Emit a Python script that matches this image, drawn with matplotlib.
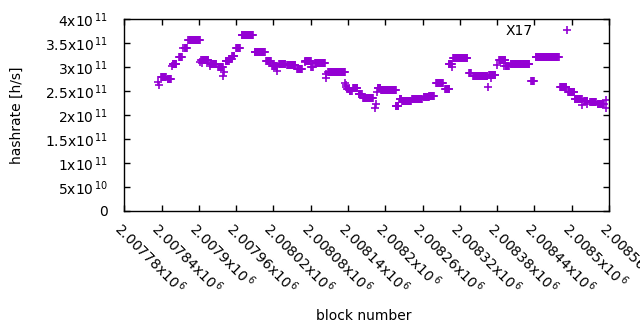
import numpy as np
import matplotlib
matplotlib.use("Agg")
import matplotlib.pyplot as plt

plt.rcParams['font.family'] = ['DejaVu Sans']
plt.rcParams['mathtext.fontset'] = 'dejavusans'

# block numbers are BASE + offset; hashrate stays flat over runs of blocks
BASE = 2007780
run_first = [54, 56, 59, 70, 76, 78, 88, 94, 97, 103, 122, 124, 125, 138, 138,
             151, 159, 160, 163, 169, 174, 180, 189, 210, 228, 238, 246, 249,
             262, 278, 290, 291, 301, 307, 324, 325, 328, 355, 356, 357, 359,
             363, 368, 377, 384, 403, 405, 407, 408, 413, 437, 443, 447, 463,
             482, 491, 502, 516, 522, 527, 529, 555, 561, 586, 587, 590, 600,
             603, 611, 614, 622, 655, 662, 701, 714, 725, 736, 740, 745, 750,
             762, 775, 775]
run_last = [54, 56, 67, 75, 76, 84, 93, 94, 101, 122, 122, 135, 125, 138, 148,
            159, 159, 160, 168, 173, 177, 186, 207, 226, 236, 245, 246, 259,
            275, 286, 290, 300, 303, 323, 324, 325, 355, 355, 356, 357, 362,
            366, 375, 382, 400, 403, 405, 407, 412, 437, 441, 446, 461, 479,
            490, 498, 513, 523, 527, 527, 552, 558, 584, 586, 597, 590, 600,
            613, 611, 619, 652, 659, 699, 711, 724, 736, 736, 745, 745, 759,
            772, 775, 775]
run_value = [2.69, 2.63, 2.80, 2.75, 3.02, 3.07, 3.21, 3.40, 3.40, 3.56, 3.10,
             3.16, 3.08, 3.02, 3.07, 3.01, 2.82, 2.91, 3.12, 3.18, 3.23, 3.40,
             3.67, 3.31, 3.14, 3.03, 2.92, 3.06, 3.04, 2.96, 3.10, 3.13, 3.00,
             3.08, 2.86, 2.77, 2.90, 2.66, 2.62, 2.59, 2.55, 2.50, 2.56, 2.44,
             2.36, 2.14, 2.22, 2.49, 2.57, 2.52, 2.19, 2.34, 2.29, 2.33, 2.37,
             2.40, 2.66, 2.54, 3.07, 3.01, 3.19, 2.88, 2.82, 2.58, 2.83, 2.78,
             3.04, 3.15, 3.02, 3.02, 3.07, 2.71, 3.21, 2.59, 2.49, 2.33, 2.21,
             2.29, 2.24, 2.28, 2.22, 2.31, 2.15]  # x 1e11 h/s

xtick_values = [BASE + 60 * k for k in range(14)]
xtick_labels = ['2.00778x10$^{\\,6}$', '2.00784x10$^{\\,6}$', '2.0079x10$^{\\,6}$',
                '2.00796x10$^{\\,6}$', '2.00802x10$^{\\,6}$', '2.00808x10$^{\\,6}$',
                '2.00814x10$^{\\,6}$', '2.0082x10$^{\\,6}$', '2.00826x10$^{\\,6}$',
                '2.00832x10$^{\\,6}$', '2.00838x10$^{\\,6}$', '2.00844x10$^{\\,6}$',
                '2.0085x10$^{\\,6}$', '2.00856x10$^{\\,6}$']
ytick_values = [0, 0.5e11, 1e11, 1.5e11, 2e11, 2.5e11, 3e11, 3.5e11, 4e11]
ytick_labels = ['0', '5x10$^{\\,10}$', '1x10$^{\\,11}$', '1.5x10$^{\\,11}$',
                '2x10$^{\\,11}$', '2.5x10$^{\\,11}$', '3x10$^{\\,11}$',
                '3.5x10$^{\\,11}$', '4x10$^{\\,11}$']

blocks, rates = [], []
for s, e, v in zip(run_first, run_last, run_value):
    for b in range(s, e + 1):
        blocks.append(BASE + b)
        rates.append(v * 1e11)

fig = plt.figure(figsize=(6.4, 3.3), dpi=100)
ax = fig.add_axes([124.3 / 640, 1 - 210.6 / 330, 484.7 / 640, 191.2 / 330])

ax.plot(blocks, rates, linestyle='none', marker='+', ms=6, mew=1.2,
        color='#9400d3', label='X17')

ax.set_xlim(BASE, BASE + 780)
ax.set_ylim(0, 4e11)
ax.set_xticks(xtick_values)
ax.set_xticklabels(xtick_labels, rotation=-45, ha='left', va='top',
                   rotation_mode='anchor', fontsize=10)
ax.set_yticks(ytick_values)
ax.set_yticklabels(ytick_labels, fontsize=10)
ax.tick_params(direction='in', length=4, width=1, top=True, right=True)
ax.tick_params(axis='y', pad=12)
ax.tick_params(axis='x', pad=6)
for sp in ax.spines.values():
    sp.set_linewidth(1)

ax.set_xlabel('block number', fontsize=10)
ax.set_ylabel('hashrate [h/s]', fontsize=10)
ax.xaxis.set_label_coords(0.4945, -0.515)
ax.yaxis.set_label_coords(-0.207, 0.5)

ax.legend(loc='upper right', bbox_to_anchor=(0.9567, 0.975), frameon=False,
          markerfirst=False, handlelength=3, handletextpad=0.95,
          borderpad=0, borderaxespad=0, fontsize=10)

fig.savefig('out.png', dpi=100)
